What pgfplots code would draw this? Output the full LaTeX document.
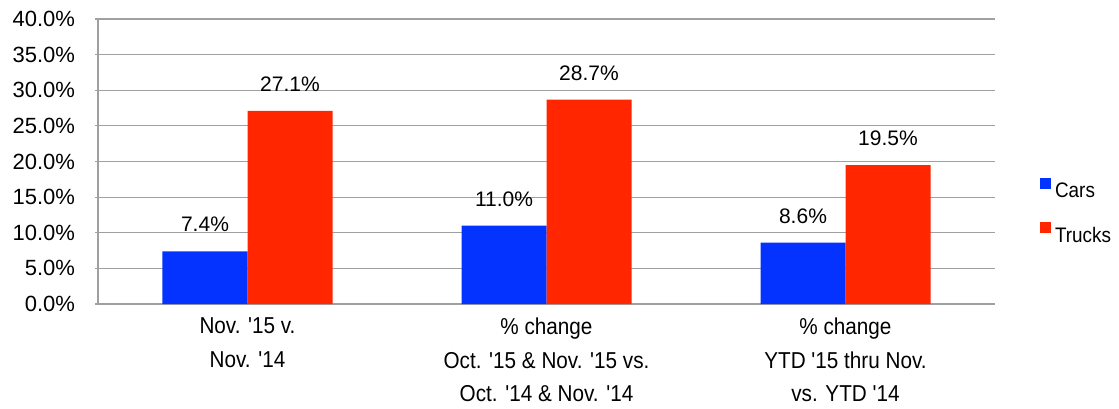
\documentclass[border=0pt]{standalone}
\usepackage{fontspec}
\setmainfont{Liberation Sans}
\newfontfamily\condfont[FakeStretch=0.9]{Liberation Sans}
\usepackage{pgfplots}
\pgfplotsset{compat=1.18}
\definecolor{carblue}{RGB}{4,51,255}
\definecolor{truckred}{RGB}{255,38,0}
\definecolor{gridgray}{RGB}{160,160,160}
\begin{document}
\begin{tikzpicture}[x=1bp,y=1bp]
\begin{axis}[
  at={(0,0)}, anchor=south west,
  scale only axis,
  width=897bp, height=285bp,
  xmin=-0.5, xmax=2.5,
  ymin=0, ymax=40,
  ybar=0pt, bar width=85bp,
  axis x line=bottom, axis y line=left,
  axis line style={-, draw=gridgray, line width=1.2bp},
  ytick={0,5,...,40},
  ymajorgrids, grid style={draw=gridgray, line width=1.2bp},
  major tick length=5bp,
  tick style={draw=gridgray, line width=1.2bp},
  y tick label style={font=\fontsize{22bp}{26bp}\selectfont, xshift=-17bp},
  /pgf/number format/assume math mode=true,
  yticklabel={\pgfmathprintnumber[fixed,fixed zerofill,precision=1]{\tick}\%},
  xtick={0,1,2},
  x tick style={draw=none},
  xticklabels={{Nov. '15 v.\\Nov. '14},{\% change\\Oct. '15 \& Nov. '15 vs.\\Oct. '14 \& Nov. '14},{\% change\\YTD '15 thru Nov.\\vs. YTD '14}},
  x tick label style={font=\condfont\fontsize{23bp}{33.5bp}\selectfont, align=center, anchor=north, yshift=-8bp},
  extra x ticks={-0.5,0.5,1.5,2.5},
  extra x tick labels={},
  extra x tick style={tick style={draw=gridgray, line width=1.2bp}, major tick length=14bp, grid=none},
  nodes near coords={\pgfmathprintnumber[fixed,fixed zerofill,precision=1]{\pgfplotspointmeta}\%},
  nodes near coords style={font=\fontsize{21bp}{25bp}\selectfont, anchor=south, inner sep=0pt, yshift=19bp, text=black},
  legend style={draw=none, fill=none, at={(1.05,0.325)}, anchor=west, inner sep=0pt, row sep=22bp,
    font=\condfont\fontsize{21bp}{25bp}\selectfont, nodes={inner sep=1bp}},
  legend cell align=left,
  legend image code/.code={\fill (0bp,2bp) rectangle (11bp,13bp); \path (14bp,0bp);},
]
\addplot[fill=carblue, draw=none] coordinates {(0,7.4) (1,11.0) (2,8.6)};
\addplot[fill=truckred, draw=none] coordinates {(0,27.1) (1,28.7) (2,19.5)};
\legend{Cars,Trucks}
\end{axis}
\pgfresetboundingbox
\path[use as bounding box] (-98bp,-105bp) rectangle (1021bp,304bp);
\end{tikzpicture}
\end{document}
